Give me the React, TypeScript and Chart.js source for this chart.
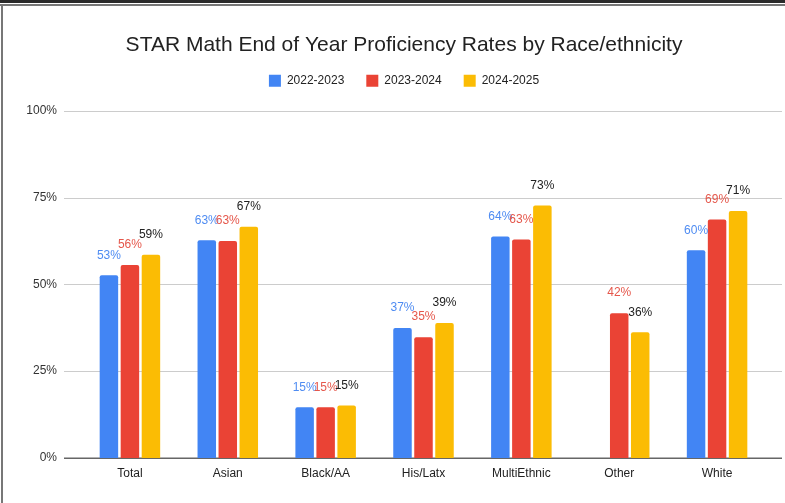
import React, { useEffect, useRef } from "react";
import { Chart, registerables } from "chart.js";

Chart.register(...registerables);

const categories = ["Total", "Asian", "Black/AA", "His/Latx", "MultiEthnic", "Other", "White"];
const seriesNames = ["2022-2023", "2023-2024", "2024-2025"];
const values2022: (number | null)[] = [52.6, 62.7, 14.6, 37.4, 63.8, null, 59.8];
const values2023: (number | null)[] = [55.6, 62.5, 14.6, 34.8, 62.9, 41.7, 68.7];
const values2024: (number | null)[] = [58.5, 66.6, 15.1, 38.9, 72.7, 36.2, 71.1];
const yTicks = [0, 25, 50, 75, 100];
const titleText = "STAR Math End of Year Proficiency Rates by Race/ethnicity";

const barColors = ["#4285F4", "#EA4335", "#FBBC04"];
const labelColors = ["#4f8cf2", "#e5574b", "#222222"];
const FONT = "'Liberation Sans', Arial, sans-serif";

const gridPlugin = {
  id: "extGrid",
  beforeDatasetsDraw(chart: any) {
    const { ctx, chartArea, scales } = chart;
    const y = scales.y;
    const x0 = chartArea.left - 17;
    const x1 = chartArea.right + 16;
    ctx.save();
    yTicks.forEach((t) => {
      const py = Math.round(y.getPixelForValue(t));
      ctx.beginPath();
      if (t === 0) {
        ctx.strokeStyle = "#666666";
        ctx.lineWidth = 1.5;
        ctx.moveTo(x0, py + 0.25);
        ctx.lineTo(x1, py + 0.25);
      } else {
        ctx.strokeStyle = "#cccccc";
        ctx.lineWidth = 1;
        ctx.moveTo(x0, py + 0.5);
        ctx.lineTo(x1, py + 0.5);
      }
      ctx.stroke();
    });
    ctx.restore();
  },
};

const labelPlugin = {
  id: "barLabels",
  afterDatasetsDraw(chart: any) {
    const { ctx } = chart;
    ctx.save();
    ctx.font = `12px ${FONT}`;
    ctx.textAlign = "center";
    ctx.textBaseline = "middle";
    chart.data.datasets.forEach((ds: any, di: number) => {
      const meta = chart.getDatasetMeta(di);
      meta.data.forEach((el: any, i: number) => {
        const v = ds.data[i];
        if (v === null || v === undefined) return;
        ctx.fillStyle = labelColors[di];
        ctx.fillText(Math.round(v) + "%", el.x, el.y - 20);
      });
    });
    ctx.restore();
  },
};

const legendGapPlugin = {
  id: "legendGap",
  beforeInit(chart: any) {
    const legend = chart.legend;
    if (!legend) return;
    const origFit = legend.fit;
    legend.fit = function () {
      origFit.call(this);
      this.height += 14;
    };
  },
  afterLayout(chart: any) {
    // centre title and legend over the same span as the original chart
    if (chart.titleBlock) chart.titleBlock.left += 19;
    if (chart.legend) chart.legend.left += 19;
  },
};

export default function App() {
  const canvasRef = useRef<HTMLCanvasElement | null>(null);

  useEffect(() => {
    if (!canvasRef.current) return;
    const chart = new Chart(canvasRef.current, {
      type: "bar",
      data: {
        labels: categories,
        datasets: [values2022, values2023, values2024].map((d, i) => ({
          label: seriesNames[i],
          data: d,
          backgroundColor: barColors[i],
          borderRadius: 2,
          categoryPercentage: 0.644,
          barPercentage: 0.88,
        })),
      },
      options: {
        responsive: false,
        animation: false,
        layout: { padding: { left: 0, right: 19, top: 0, bottom: 0 } },
        plugins: {
          title: {
            display: true,
            text: titleText,
            color: "#222222",
            font: { family: FONT, size: 21, weight: "normal", lineHeight: 0.7 },
            padding: { top: 38, bottom: 0 },
          },
          legend: {
            display: true,
            position: "top",
            labels: {
              boxWidth: 12,
              boxHeight: 12,
              padding: 22,
              color: "#222222",
              font: { family: FONT, size: 12 },
            },
          },
          tooltip: { enabled: false },
        },
        scales: {
          x: {
            grid: { display: false, drawTicks: false },
            border: { display: false },
            ticks: { color: "#222222", font: { family: FONT, size: 12 }, padding: 8 },
            afterFit(scale: any) {
              scale.height = 45;
            },
          },
          y: {
            min: 0,
            max: 100,
            grid: { display: false, drawTicks: false },
            border: { display: false },
            ticks: {
              stepSize: 25,
              color: "#333333",
              padding: 24,
              font: { family: FONT, size: 12 },
              callback: (v: any) => v + "%",
            },
            afterFit(scale: any) {
              scale.width = 58;
            },
          },
        },
      },
      plugins: [gridPlugin, labelPlugin, legendGapPlugin],
    });
    return () => chart.destroy();
  }, []);

  return (
    <div style={{ position: "fixed", left: 0, top: 0, width: 785, height: 503, background: "#ffffff", overflow: "hidden" }}>
      <canvas
        ref={canvasRef}
        width={762}
        height={503}
        style={{ position: "absolute", left: 23, top: 0, width: 762, height: 503 }}
      />
      <div style={{ position: "absolute", left: 0, top: 0, width: 785, height: 3, background: "#2a2a2a" }} />
      <div style={{ position: "absolute", left: 0, top: 4, width: 785, height: 2, background: "#777777" }} />
      <div style={{ position: "absolute", left: 1, top: 4, width: 2, height: 499, background: "#777777" }} />
    </div>
  );
}
